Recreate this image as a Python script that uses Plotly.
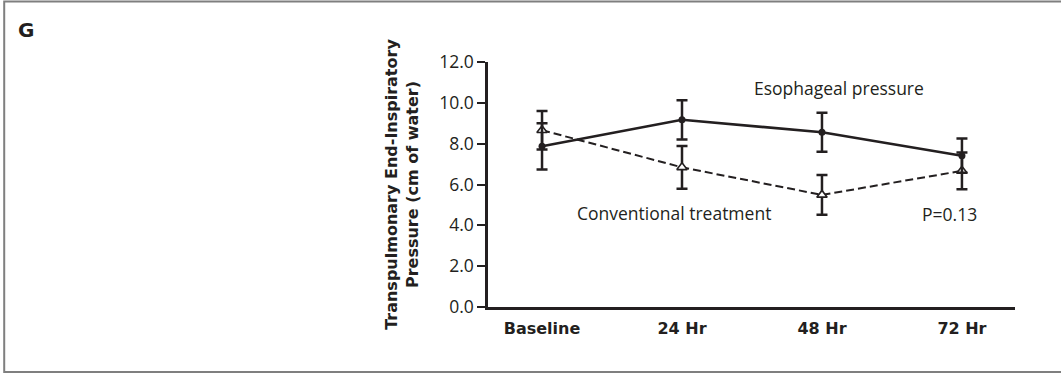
import plotly.graph_objects as go

categories = ["Baseline", "24 Hr", "48 Hr", "72 Hr"]
esophageal = [7.87, 9.17, 8.56, 7.41]
esophageal_err = [1.13, 0.96, 0.96, 0.84]
conventional = [8.66, 6.84, 5.49, 6.67]
conventional_err = [0.94, 1.05, 0.97, 0.90]
y_ticks = [0, 2, 4, 6, 8, 10, 12]
y_tick_labels = ["0.0", "2.0", "4.0", "6.0", "8.0", "10.0", "12.0"]

INK = "#231f20"
TXT = "Open Sans"
xpos = list(range(len(categories)))

fig = go.Figure()
fig.add_trace(go.Scatter(
    x=xpos, y=conventional, mode="lines+markers",
    line=dict(color=INK, width=2, dash="8px,4px"),
    marker=dict(symbol="triangle-up", size=9, color="white",
                line=dict(color=INK, width=1.6)),
    error_y=dict(type="data", array=conventional_err, color=INK,
                 thickness=2.5, width=5.5),
    showlegend=False, cliponaxis=False,
))
fig.add_trace(go.Scatter(
    x=xpos, y=esophageal, mode="lines+markers",
    line=dict(color=INK, width=2.6),
    marker=dict(symbol="circle", size=7, color=INK),
    error_y=dict(type="data", array=esophageal_err, color=INK,
                 thickness=2.5, width=5.5),
    showlegend=False, cliponaxis=False,
))

fig.update_layout(
    width=1061, height=374,
    margin=dict(l=488, r=46, t=62, b=67),
    paper_bgcolor="white", plot_bgcolor="white",
    font=dict(family=TXT, size=17.5, color=INK),
    xaxis=dict(
        range=[-0.386, 3.379], tickmode="array", tickvals=xpos,
        ticktext=categories, showgrid=False, zeroline=False,
        showline=True, linecolor=INK, linewidth=2.5,
        ticks="outside", ticklen=5, tickcolor="rgba(0,0,0,0)",
        tickfont=dict(family="DejaVu Sans", size=16, color=INK, weight="bold"),
    ),
    yaxis=dict(
        range=[0, 12], tickmode="array", tickvals=y_ticks,
        ticktext=y_tick_labels, showgrid=False, zeroline=False,
        showline=True, linecolor=INK, linewidth=2.5,
        ticks="outside", ticklen=8, tickwidth=2, tickcolor=INK,
        tickfont=dict(family=TXT, size=17.5, color=INK),
        title=dict(text="Transpulmonary End-Inspiratory<br>Pressure (cm of water)",
                   font=dict(family="DejaVu Sans", size=16, color=INK, weight="bold"),
                   standoff=17),
    ),
    shapes=[
        dict(type="path", xref="paper", yref="paper",
             path="M 1.2,1.247 L -0.918,1.247 L -0.918,-0.265 L 1.2,-0.265",
             line=dict(color="#7f7f7f", width=2)),
    ],
    annotations=[
        dict(text="G", xref="paper", yref="paper", x=-0.895, y=1.13,
             xanchor="left", yanchor="middle", showarrow=False,
             font=dict(family="DejaVu Sans", size=20, color=INK, weight="bold")),
        dict(text="Esophageal pressure", x=1.5, y=10.73, xanchor="left",
             yanchor="middle", showarrow=False),
        dict(text="Conventional treatment", x=0.236, y=4.62, xanchor="left",
             yanchor="middle", showarrow=False),
        dict(text="P=0.13", x=2.7, y=4.56, xanchor="left",
             yanchor="middle", showarrow=False),
    ],
)

fig.write_html("out.html")
